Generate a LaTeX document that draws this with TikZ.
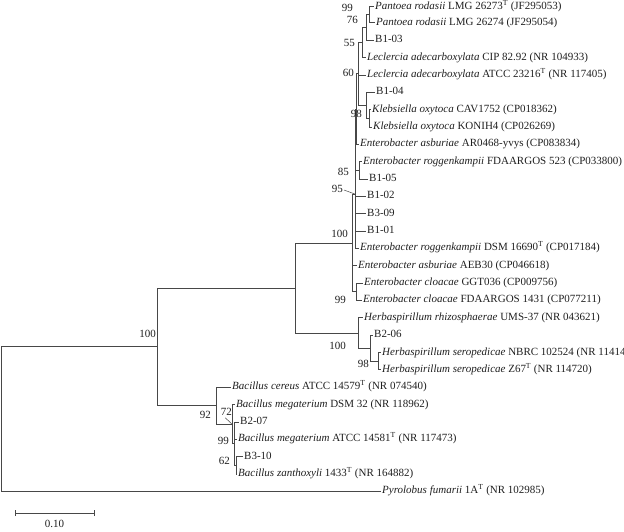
\documentclass[tikz,border=0pt]{standalone}
\usepackage{fontspec}
\setmainfont{Liberation Serif}
\begin{document}
\begin{tikzpicture}[x=1pt,y=-1pt,
  font=\fontsize{11}{13}\selectfont,
  br/.style={line width=0.8pt, draw=black!72, line join=miter},
  leaf/.style={anchor=west, inner sep=1.5pt, text height=7.5pt, text depth=2.5pt, text=black!88},
  bs/.style={anchor=east, inner sep=0pt, text=black!88},
  leader/.style={line width=0.5pt, draw=black!72}]
\useasboundingbox (0,0) rectangle (624,531);
% leaves
\node[leaf] (l1)  at (373.5,6.5)    {\textit{Pantoea rodasii} LMG 26273\textsuperscript{T} (JF295053)};
\node[leaf] (l2)  at (374.5,22.85)  {\textit{Pantoea rodasii} LMG 26274 (JF295054)};
\node[leaf] (l3)  at (373.5,40.2)   {B1-03};
\node[leaf] (l4)  at (365.5,57.55)  {\textit{Leclercia adecarboxylata} CIP 82.92 (NR 104933)};
\node[leaf] (l5)  at (365.5,74.9)   {\textit{Leclercia adecarboxylata} ATCC 23216\textsuperscript{T} (NR 117405)};
\node[leaf] (l6)  at (374.5,92.25)  {B1-04};
\node[leaf] (l7)  at (370.5,109.6)  {\textit{Klebsiella oxytoca} CAV1752 (CP018362)};
\node[leaf] (l8)  at (371.5,126.95) {\textit{Klebsiella oxytoca} KONIH4 (CP026269)};
\node[leaf] (l9)  at (358.5,144.3)  {\textit{Enterobacter asburiae} AR0468-yvys (CP083834)};
\node[leaf] (l10) at (361.5,161.65) {\textit{Enterobacter roggenkampii} FDAARGOS 523 (CP033800)};
\node[leaf] (l11) at (367.5,179.0)  {B1-05};
\node[leaf] (l12) at (365.5,196.35) {B1-02};
\node[leaf] (l13) at (365.5,213.7)  {B3-09};
\node[leaf] (l14) at (365.5,231.05) {B1-01};
\node[leaf] (l15) at (358.5,248.4)  {\textit{Enterobacter roggenkampii} DSM 16690\textsuperscript{T} (CP017184)};
\node[leaf] (l16) at (356.5,265.75) {\textit{Enterobacter asburiae} AEB30 (CP046618)};
\node[leaf] (l17) at (362.5,283.1)  {\textit{Enterobacter cloacae} GGT036 (CP009756)};
\node[leaf] (l18) at (361.5,300.45) {\textit{Enterobacter cloacae} FDAARGOS 1431 (CP077211)};
\node[leaf] (l19) at (362.5,317.8)  {\textit{Herbaspirillum rhizosphaerae} UMS-37 (NR 043621)};
\node[leaf] (l20) at (372.5,335.15) {B2-06};
\node[leaf] (l21) at (380.5,352.5)  {\textit{Herbaspirillum seropedicae} NBRC 102524 (NR 114142)};
\node[leaf] (l22) at (380.5,369.85) {\textit{Herbaspirillum seropedicae} Z67\textsuperscript{T} (NR 114720)};
\node[leaf] (l23) at (230.5,387.2)  {\textit{Bacillus cereus} ATCC 14579\textsuperscript{T} (NR 074540)};
\node[leaf] (l24) at (234.5,404.55) {\textit{Bacillus megaterium} DSM 32 (NR 118962)};
\node[leaf] (l25) at (238.5,421.9)  {B2-07};
\node[leaf] (l26) at (236.5,439.25) {\textit{Bacillus megaterium} ATCC 14581\textsuperscript{T} (NR 117473)};
\node[leaf] (l27) at (242.5,456.6)  {B3-10};
\node[leaf] (l28) at (236.5,473.95) {\textit{Bacillus zanthoxyli} 1433\textsuperscript{T} (NR 164882)};
\node[leaf] (l29) at (380.5,491.3)  {\textit{Pyrolobus fumarii} 1A\textsuperscript{T} (NR 102985)};
% internal nodes
\coordinate (P99) at (369,14.68);
\coordinate (P76) at (366,27.44);
\coordinate (P55) at (362,42.5);
\coordinate (K2)  at (369,118.28);
\coordinate (K98) at (366,105.26);
\coordinate (P60) at (358,73.88);
\coordinate (A)   at (356,109.09);
\coordinate (N85) at (359,170.33);
\coordinate (B)   at (355.5,139.71);
\coordinate (N95) at (355,194.06);
\coordinate (CL)  at (356,291.78);
\coordinate (E)   at (352,242.92);
\coordinate (S98) at (378,361.18);
\coordinate (X)   at (370,348.16);
\coordinate (H)   at (358,332.98);
\coordinate (EH)  at (295,287.95);
\coordinate (N62) at (236,465.28);
\coordinate (N99) at (234,443.59);
\coordinate (M)   at (232,424.07);
\coordinate (NB)  at (216,405.64);
\coordinate (L)   at (157,346.8);
\coordinate (R)   at (1,419.05);
% internal-to-internal branches
\foreach \p/\c in {P76/P99,P55/P76,P60/P55,P60/K98,K98/K2,A/P60,B/A,B/N85,N95/B,E/N95,E/CL,
  EH/E,EH/H,H/X,X/S98,L/EH,L/NB,NB/M,M/N99,N99/N62,R/L}
  \draw[br] (\p) |- (\c);
% internal-to-leaf branches
\foreach \p/\c in {P99/l1,P99/l2,P76/l3,P55/l4,P60/l5,K98/l6,K2/l7,K2/l8,A/l9,N85/l10,N85/l11,
  N95/l12,N95/l13,N95/l14,N95/l15,E/l16,CL/l17,CL/l18,H/l19,X/l20,S98/l21,S98/l22,
  NB/l23,M/l24,N99/l25,N99/l26,N62/l27,N62/l28,R/l29}
  \draw[br] (\p) |- (\c.west);
% bootstrap values
\node[bs] (b99a) at (353,7.5)   {99};
\node[bs] (b76)  at (358,20)    {76};
\node[bs] (b55)  at (355,43)    {55};
\node[bs] (b60)  at (354,73)    {60};
\node[bs] (b98a) at (362,114)   {98};
\node[bs] (b85)  at (349,171.5) {85};
\node[bs] (b95)  at (343,189)   {95};
\node[bs] (b100a) at (348,234)  {100};
\node[bs] (b99b) at (346,300)   {99};
\node[bs] (b100b) at (346,345.5) {100};
\node[bs] (b98b) at (369,364)   {98};
\node[bs] (b100c) at (156,334)  {100};
\node[bs] (b92)  at (211,415)   {92};
\node[bs] (b72)  at (232,412)   {72};
\node[bs] (b99c) at (229,441)   {99};
\node[bs] (b62)  at (230,461)   {62};
\draw[leader] (b95.east) ++(1,1) -- (N95);
\draw[leader] (b72.south) ++(-1,2) -- (M);
% scale bar
\coordinate (s1) at (15,513);
\coordinate (s2) at (94,513);
\draw[br] (s1) -- (s2);
\draw[br] ([yshift=-3pt]s1) -- ([yshift=3pt]s1);
\draw[br] ([yshift=-3pt]s2) -- ([yshift=3pt]s2);
\node[text=black!88] (sl) at (54.5,524) {0.10};
\end{tikzpicture}
\end{document}
